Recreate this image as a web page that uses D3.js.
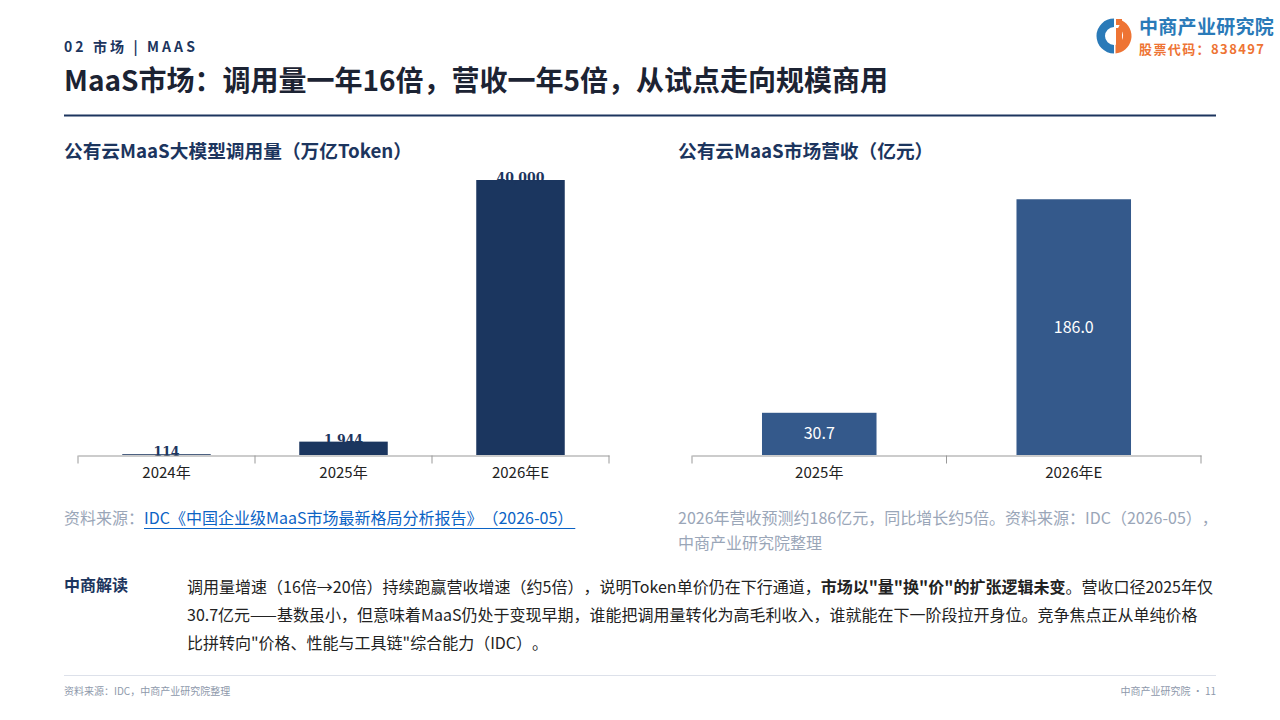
<!DOCTYPE html>
<html><head><meta charset="utf-8">
<script src="https://cdn.jsdelivr.net/npm/d3@7"></script>
<style>
html,body{margin:0;padding:0;background:#fff;}
svg{display:block;font-family:"Noto Sans CJK SC","Noto Sans",sans-serif;}
svg text{text-spacing-trim:space-all;}
</style></head>
<body><svg id="c" width="1280" height="720"></svg>
<script>
// ---- data ----
const callCategories = ["2024年", "2025年", "2026年E"];
const callValues = [114, 1944, 40000];
const revCategories = ["2025年", "2026年E"];
const revValues = [30.7, 186.0];

const svg = d3.select("#c");
const NAVY = "#1c355e";

// header
svg.append("text").attr("x", 64).attr("y", 52).attr("fill", NAVY)
  .attr("font-size", 14).attr("font-weight", 700).attr("letter-spacing", 3.1)
  .text("02 市场 | MAAS");
svg.append("text").attr("x", 64).attr("y", 91).attr("fill", "#1c2333")
  .attr("font-size", 28).attr("font-weight", 700)
  .text("MaaS市场：调用量一年16倍，营收一年5倍，从试点走向规模商用");
svg.append("line").attr("x1", 64).attr("x2", 1216).attr("y1", 115.5).attr("y2", 115.5)
  .attr("stroke", NAVY).attr("stroke-width", 2);

// logo
const lg = svg.append("g").attr("transform", "translate(1114,36)");
const arcB = d3.arc().innerRadius(9).outerRadius(17.5).startAngle(Math.PI * 1.0).endAngle(Math.PI * 2.0);
lg.append("path").attr("d", arcB()).attr("fill", "#2a7ab8");
const arcO = d3.arc().innerRadius(9).outerRadius(17.5).startAngle(Math.PI * 0.15).endAngle(Math.PI * 0.98);
lg.append("path").attr("d", arcO()).attr("fill", "#ee7434");
lg.append("rect").attr("x", 2).attr("y", -8).attr("width", 6).attr("height", 17).attr("fill", "#ee7434");
lg.append("rect").attr("x", 2).attr("y", -17).attr("width", 6).attr("height", 6).attr("fill", "#ee7434");
lg.append("rect").attr("x", 0).attr("y", -18).attr("width", 1.5).attr("height", 36).attr("fill", "#fff");
svg.append("text").attr("x", 1139).attr("y", 34).attr("fill", "#2a7ab8")
  .attr("font-size", 19).attr("font-weight", 700).attr("letter-spacing", 0.3).text("中商产业研究院");
svg.append("text").attr("x", 1139).attr("y", 54).attr("fill", "#ee7434")
  .attr("font-size", 13).attr("font-weight", 700).attr("letter-spacing", 1.4).text("股票代码：838497");

// chart titles
svg.append("text").attr("x", 64).attr("y", 158).attr("fill", NAVY)
  .attr("font-size", 18.7).attr("font-weight", 700).text("公有云MaaS大模型调用量（万亿Token）");
svg.append("text").attr("x", 678).attr("y", 158).attr("fill", NAVY)
  .attr("font-size", 18.7).attr("font-weight", 700).text("公有云MaaS市场营收（亿元）");

function axisStyle(g) {
  g.select(".domain").attr("stroke", "#999");
  g.selectAll(".tick line").attr("stroke", "#999");
  g.selectAll(".tick text").attr("fill", "#222").attr("font-size", 15)
    .attr("font-family", "'Noto Sans CJK SC',sans-serif");
}

// ---- left chart ----
const x1 = d3.scaleBand().domain(callCategories).range([78, 609]).paddingInner(0.5).paddingOuter(0.25);
const y1 = d3.scaleLinear().domain([0, 40000]).range([455, 180]);
svg.append("g").selectAll("rect").data(callValues).join("rect")
  .attr("x", (d, i) => x1(callCategories[i])).attr("width", x1.bandwidth())
  .attr("y", d => y1(d)).attr("height", d => 455 - y1(d)).attr("fill", "#1b365f");
svg.append("g").selectAll("text").data(callValues).join("text")
  .attr("x", (d, i) => x1(callCategories[i]) + x1.bandwidth() / 2)
  .attr("y", d => y1(d) + 2).attr("text-anchor", "middle")
  .attr("font-family", "'DejaVu Serif',serif").attr("font-weight", 700)
  .attr("font-size", 12.5).attr("fill", NAVY).text(d => d3.format(",")(d));
const ax1 = d3.axisBottom(x1).tickSize(0).tickPadding(12);
const g1 = svg.append("g").attr("transform", "translate(0,455.5)").call(ax1).call(axisStyle);
const b1 = d3.range(callCategories.length + 1).map(i => 78 + i * (609 - 78) / callCategories.length);
g1.selectAll(".bt").data(b1).join("line").attr("class", "bt")
  .attr("x1", d => d).attr("x2", d => d).attr("y1", 0).attr("y2", 8).attr("stroke", "#999");

// ---- right chart ----
const x2 = d3.scaleBand().domain(revCategories).range([692, 1201]).paddingInner(0.55).paddingOuter(0.275);
const y2 = d3.scaleLinear().domain([0, 200]).range([455, 180]);
svg.append("g").selectAll("rect").data(revValues).join("rect")
  .attr("x", (d, i) => x2(revCategories[i])).attr("width", x2.bandwidth())
  .attr("y", d => y2(d)).attr("height", d => 455 - y2(d)).attr("fill", "#34598b");
svg.append("g").selectAll("text").data(revValues).join("text")
  .attr("x", (d, i) => x2(revCategories[i]) + x2.bandwidth() / 2)
  .attr("y", d => (y2(d) + 455) / 2).attr("dy", "0.35em").attr("text-anchor", "middle")
  .attr("font-size", 16).attr("fill", "#fff").text(d => d3.format(".1f")(d));
const ax2 = d3.axisBottom(x2).tickSize(0).tickPadding(12);
const g2 = svg.append("g").attr("transform", "translate(0,455.5)").call(ax2).call(axisStyle);
const b2 = d3.range(revCategories.length + 1).map(i => 692 + i * (1201 - 692) / revCategories.length);
g2.selectAll(".bt").data(b2).join("line").attr("class", "bt")
  .attr("x1", d => d).attr("x2", d => d).attr("y1", 0).attr("y2", 8).attr("stroke", "#999");

// sources
const GRAY = "#9aa6b8";
const s1 = svg.append("text").attr("x", 64).attr("y", 524).attr("font-size", 16);
s1.append("tspan").attr("fill", GRAY).text("资料来源：");
s1.append("tspan").attr("fill", "#0b63c5").text("IDC《中国企业级MaaS市场最新格局分析报告》（2026-05）");
svg.append("text").attr("x", 678).attr("y", 524).attr("font-size", 16).attr("fill", GRAY)
  .text("2026年营收预测约186亿元，同比增长约5倍。资料来源：IDC（2026-05），");
svg.append("text").attr("x", 678).attr("y", 549).attr("font-size", 16).attr("fill", GRAY)
  .text("中商产业研究院整理");
const full = s1.node().getComputedTextLength();
const pre = s1.select("tspan").node().getComputedTextLength();
svg.append("line").attr("x1", 64 + pre).attr("x2", 64 + full + 2).attr("y1", 528.5).attr("y2", 528.5)
  .attr("stroke", "#0b63c5").attr("stroke-width", 1);

// interpretation
svg.append("text").attr("x", 64).attr("y", 591).attr("font-size", 16).attr("font-weight", 700)
  .attr("fill", NAVY).text("中商解读");
const body = [
  [["调用量增速（16倍→20倍）持续跑赢营收增速（约5倍），说明Token单价仍在下行通道，", 400],
   ["市场以\"量\"换\"价\"的扩张逻辑未变", 700], ["。营收口径2025年仅", 400]],
  [["30.7亿元——基数虽小，但意味着MaaS仍处于变现早期，谁能把调用量转化为高毛利收入，谁就能在下一阶段拉开身位。竞争焦点正从单纯价格", 400]],
  [["比拼转向\"价格、性能与工具链\"综合能力（IDC）。", 400]]
];
body.forEach((line, i) => {
  const t = svg.append("text").attr("x", 187).attr("y", 593 + i * 28).attr("font-size", 16).attr("fill", "#222");
  line.forEach(seg => t.append("tspan").attr("font-weight", seg[1]).text(seg[0]));
});

// footer
svg.append("line").attr("x1", 64).attr("x2", 1216).attr("y1", 675.5).attr("y2", 675.5)
  .attr("stroke", "#dde1ea").attr("stroke-width", 1);
svg.append("text").attr("x", 64).attr("y", 695).attr("font-size", 10).attr("fill", "#8e99ab")
  .text("资料来源：IDC，中商产业研究院整理");
svg.append("text").attr("x", 1216).attr("y", 695).attr("font-size", 10).attr("fill", "#8e99ab")
  .attr("text-anchor", "end").text("中商产业研究院 · 11");
</script></body></html>
